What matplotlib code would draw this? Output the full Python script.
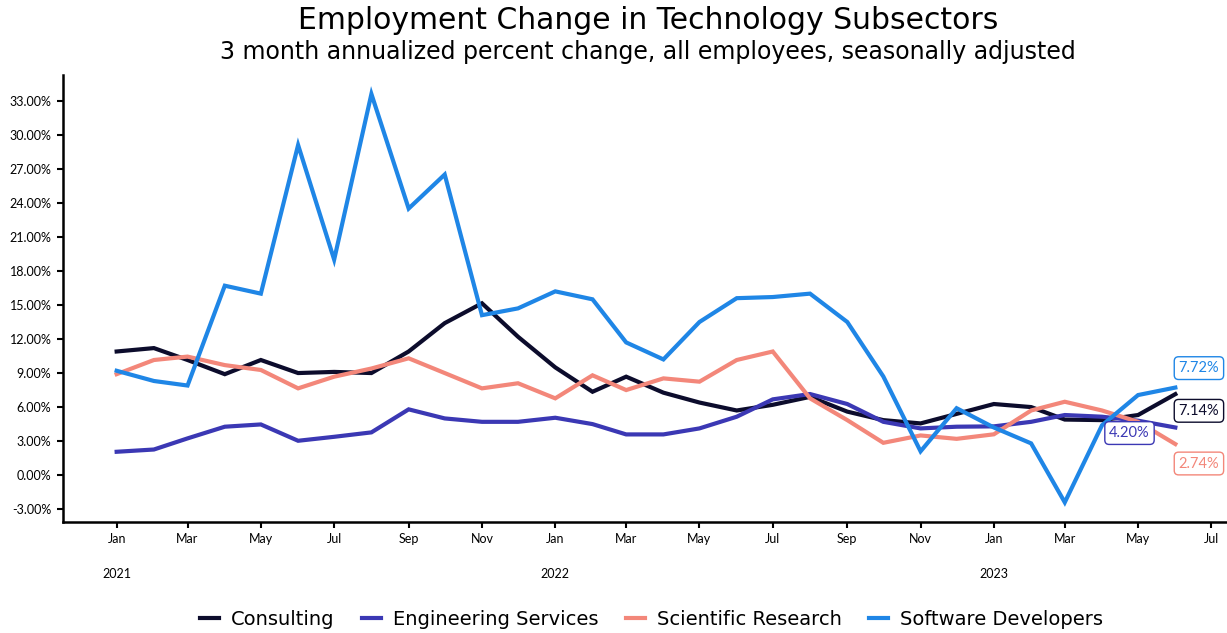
import numpy as np
import pandas as pd
import matplotlib
matplotlib.use("Agg")
import matplotlib.pyplot as plt
import matplotlib.dates as mdates
from matplotlib.ticker import FuncFormatter, MultipleLocator

plt.rcParams['font.family'] = ['Lato', 'DejaVu Sans']

# monthly observations, Jan 2021 .. Jun 2023
months = pd.date_range("2021-01-01", "2023-06-01", freq="MS")

consulting = [10.9, 11.2, 10.15, 8.9, 10.15, 9.0, 9.1, 9.0, 10.9, 13.4, 15.15, 12.2,
              9.5, 7.35, 8.68, 7.27, 6.4, 5.7, 6.2, 6.9, 5.6, 4.85, 4.56, 5.4,
              6.27, 6.0, 4.9, 4.85, 5.3, 7.14]
engineering = [2.06, 2.26, 3.24, 4.27, 4.47, 3.03, 3.38, 3.77, 5.8, 5.0, 4.7, 4.7,
               5.06, 4.5, 3.59, 3.59, 4.12, 5.15, 6.68, 7.15, 6.27, 4.7, 4.12, 4.27,
               4.3, 4.7, 5.3, 5.15, 4.8, 4.20]
scientific = [8.9, 10.15, 10.45, 9.7, 9.27, 7.65, 8.68, 9.4, 10.3, 9.0, 7.65, 8.1,
              6.77, 8.8, 7.5, 8.53, 8.24, 10.15, 10.9, 6.77, 4.85, 2.85, 3.5, 3.2,
              3.6, 5.7, 6.47, 5.7, 4.7, 2.74]
software = [9.2, 8.3, 7.9, 16.7, 16.0, 29.1, 19.0, 33.6, 23.5, 26.5, 14.1, 14.7,
            16.2, 15.5, 11.7, 10.2, 13.5, 15.6, 15.7, 16.0, 13.5, 8.7, 2.1, 5.9,
            4.2, 2.8, -2.4, 4.4, 7.06, 7.72]

series = [
    ("Consulting", consulting, "#0c0c2c"),
    ("Engineering Services", engineering, "#3b38b4"),
    ("Scientific Research", scientific, "#f3877a"),
    ("Software Developers", software, "#1f86e6"),
]
# where the end-value labels sit, in points from the last point
label_offsets = {
    "Consulting": (17, -12),
    "Engineering Services": (-33, -4),
    "Scientific Research": (17, -14),
    "Software Developers": (17, 14),
}

fig = plt.figure(figsize=(12.27, 6.33), dpi=100)
ax = fig.add_axes([0.051, 0.175, 0.949, 0.707])

for name, vals, col in series:
    ax.plot(months, vals, color=col, lw=3.0, label=name, solid_joinstyle="miter")
    dx, dy = label_offsets[name]
    ax.annotate(f"{vals[-1]:.2f}%", xy=(months[-1], vals[-1]), xytext=(dx, dy),
                textcoords="offset points", ha="center", va="center",
                fontsize=10.5, color=col,
                bbox=dict(boxstyle="round,pad=0.3", fc="white", ec=col, lw=1))

ax.set_xlim(pd.Timestamp("2020-11-17"), pd.Timestamp("2023-07-14"))
ax.set_ylim(-4.15, 35.3)
ax.yaxis.set_major_locator(MultipleLocator(3))
ax.yaxis.set_major_formatter(FuncFormatter(lambda v, p: f"{v:.2f}%"))
ax.xaxis.set_major_locator(mdates.MonthLocator(bymonth=[1, 3, 5, 7, 9, 11]))
ax.xaxis.set_major_formatter(mdates.DateFormatter("%b"))

for sp in ["top", "right"]:
    ax.spines[sp].set_visible(False)
for sp in ["left", "bottom"]:
    ax.spines[sp].set_linewidth(1.8)
ax.tick_params(axis="both", length=4, width=1.5, labelsize=9, pad=4)

for yr in [2021, 2022, 2023]:
    ax.text(pd.Timestamp(f"{yr}-01-01"), -0.115, str(yr), transform=ax.get_xaxis_transform(),
            ha="center", va="center", fontsize=9)

fig.text(0.528, 0.967, "Employment Change in Technology Subsectors", ha="center", va="center",
         fontsize=21.5, family="DejaVu Sans")
fig.text(0.528, 0.918, "3 month annualized percent change, all employees, seasonally adjusted",
         ha="center", va="center", fontsize=17, family="DejaVu Sans")

fig.legend(loc="center", bbox_to_anchor=(0.531, 0.022), ncol=4, frameon=False,
           prop={"family": "DejaVu Sans", "size": 14},
           handlelength=1.0, handletextpad=0.6, columnspacing=1.4)

fig.savefig("out.png", dpi=100)
